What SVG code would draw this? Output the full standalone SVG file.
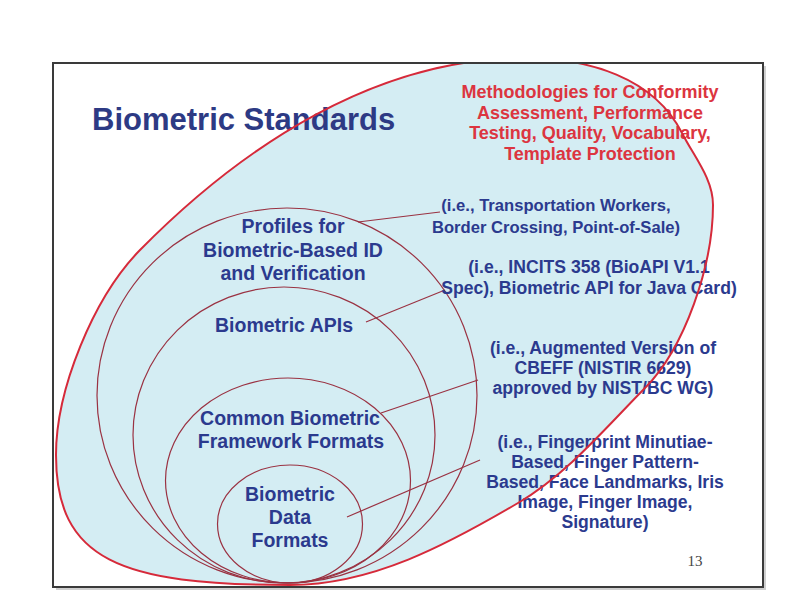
<svg xmlns="http://www.w3.org/2000/svg" width="794" height="612" viewBox="0 0 794 612">
  <style>
    .title { font-family: "Liberation Sans", Arial, sans-serif; font-weight: bold; font-size: 31px; fill: #2d3a84; }
    .lbl { font-family: "Liberation Sans", Arial, sans-serif; font-weight: bold; font-size: 19.5px; fill: #2b3a8e; text-anchor: middle; }
    .note { font-family: "Liberation Sans", Arial, sans-serif; font-weight: bold; font-size: 17.6px; fill: #2b3a8e; text-anchor: middle; }
    .scope { font-family: "Liberation Sans", Arial, sans-serif; font-weight: bold; font-size: 18px; fill: #dc3540; text-anchor: middle; }
    .ring { fill: none; stroke: #9a3242; stroke-width: 1.2; }
    .lead { fill: none; stroke: #9a3242; stroke-width: 1.2; }
    .page { font-family: "Liberation Serif", "Times New Roman", serif; font-size: 15px; fill: #444; text-anchor: middle; }
  </style>
  <defs>
    <clipPath id="slide">
      <rect x="53" y="63" width="710" height="524"/>
    </clipPath>
    <!-- tilted outer scope outline -->
    <path id="scope-shape" d="M 290 585 C 120 585, 56 560, 56 455 C 56 390, 93 298, 140 250 C 243.6 144.9, 377 58, 525 58 C 587.6 58, 653.8 77.3, 682 133 C 693.9 156.6, 713 178.5, 713 205 C 713 265, 685 347.5, 645 388 C 605 428.5, 567.1 474.1, 518 503 C 447.3 544.6, 372 585, 290 585 Z"/>
  </defs>

  <rect width="794" height="612" fill="#ffffff"/>

  <!-- slide frame with soft drop shadow -->
  <rect x="56" y="66" width="710" height="524" fill="#cfcfcf"/>
  <rect x="53" y="63" width="710" height="524" fill="#ffffff"/>

  <!-- outer scope: fill -->
  <g id="scope" clip-path="url(#slide)">
    <use href="#scope-shape" fill="#d4edf3"/>
  </g>

  <!-- nested standard layers -->
  <g id="node-profiles">
    <ellipse class="ring" cx="287" cy="395.5" rx="190" ry="187.5"/>
    <text class="lbl" x="293" y="233">Profiles for</text>
    <text class="lbl" x="293" y="256.5">Biometric-Based ID</text>
    <text class="lbl" x="293" y="280">and Verification</text>
  </g>
  <g id="node-apis">
    <ellipse class="ring" cx="284" cy="435" rx="151" ry="148"/>
    <text class="lbl" x="284" y="332">Biometric APIs</text>
  </g>
  <g id="node-cbeff">
    <ellipse class="ring" cx="288" cy="480.5" rx="122.5" ry="102.5"/>
    <text class="lbl" x="290" y="425">Common Biometric</text>
    <text class="lbl" x="291" y="448">Framework Formats</text>
  </g>
  <g id="node-data">
    <ellipse class="ring" cx="290" cy="524" rx="72.5" ry="59"/>
    <text class="lbl" x="290" y="501">Biometric</text>
    <text class="lbl" x="290" y="524">Data</text>
    <text class="lbl" x="290" y="547">Formats</text>
  </g>

  <!-- leader lines from each layer to its examples -->
  <g id="connectors">
    <line class="lead" x1="358" y1="222" x2="440" y2="212"/>
    <line class="lead" x1="366" y1="322" x2="445" y2="290"/>
    <line class="lead" x1="381" y1="413" x2="478" y2="380"/>
    <line class="lead" x1="347" y1="517" x2="480" y2="460"/>
  </g>

  <!-- example annotations -->
  <g id="note-profiles">
    <text class="note" x="556" y="211" style="font-size:16.6px">(i.e., Transportation Workers,</text>
    <text class="note" x="556" y="233" style="font-size:16.6px">Border Crossing, Point-of-Sale)</text>
  </g>
  <g id="note-apis">
    <text class="note" x="589" y="273">(i.e., INCITS 358 (BioAPI V1.1</text>
    <text class="note" x="589" y="294">Spec), Biometric API for Java Card)</text>
  </g>
  <g id="note-cbeff">
    <text class="note" x="603" y="354">(i.e., Augmented Version of</text>
    <text class="note" x="603" y="374">CBEFF (NISTIR 6629)</text>
    <text class="note" x="603" y="394">approved by NIST/BC WG)</text>
  </g>
  <g id="note-data">
    <text class="note" x="605" y="448">(i.e., Fingerprint Minutiae-</text>
    <text class="note" x="605" y="468">Based, Finger Pattern-</text>
    <text class="note" x="605" y="488">Based, Face Landmarks, Iris</text>
    <text class="note" x="605" y="508">Image, Finger Image,</text>
    <text class="note" x="605" y="528">Signature)</text>
  </g>

  <!-- scope label and title -->
  <g id="scope-label">
    <text class="scope" x="590" y="98">Methodologies for Conformity</text>
    <text class="scope" x="590" y="118.5">Assessment, Performance</text>
    <text class="scope" x="590" y="139">Testing, Quality, Vocabulary,</text>
    <text class="scope" x="590" y="160">Template Protection</text>
  </g>
  <text class="title" x="92" y="130">Biometric Standards</text>

  <!-- outer scope: outline drawn over the lettering -->
  <g id="scope-outline" clip-path="url(#slide)">
    <use href="#scope-shape" fill="none" stroke="#d62a3a" stroke-width="2"/>
  </g>

  <!-- slide border and page number -->
  <rect x="53" y="63" width="710" height="524" fill="none" stroke="#3a3a3a" stroke-width="2"/>
  <text class="page" x="695" y="566">13</text>
</svg>
